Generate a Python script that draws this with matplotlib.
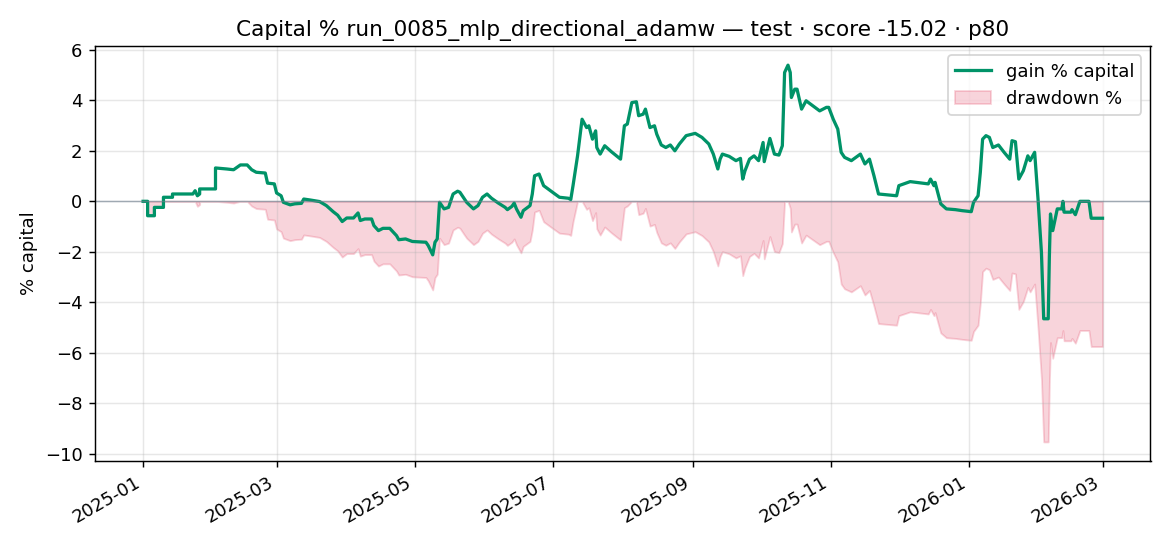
import matplotlib
matplotlib.use("Agg")
import matplotlib.pyplot as plt
import matplotlib.dates as mdates
import numpy as np
import pandas as pd

START = "2025-01-01"
# day offsets from START and gain % capital
days = [0, 2, 2, 5, 5, 9, 9, 13, 13, 22, 23, 24, 25, 25, 32, 32, 37, 40, 43, 46,
        48, 50, 54, 55, 58, 59, 61, 62, 65, 67, 70, 71, 74, 78, 81, 84, 86, 88, 90, 93,
        95, 96, 98, 101, 102, 104, 106, 109, 112, 113, 116, 119, 125, 126, 128, 129, 130, 131, 133, 135,
        137, 139, 140, 142, 143, 146, 148, 150, 152, 154, 157, 160, 161, 163, 164, 165, 167, 168, 171, 172,
        173, 175, 177, 180, 182, 184, 188, 189, 190, 192, 194, 196, 197, 198.6, 200, 200.5, 202, 204, 207, 210,
        211, 212.7, 214, 216, 218, 219, 221, 222, 224, 226, 227, 229, 231, 233, 235, 237, 240, 244, 247, 250,
        252, 254, 255, 256, 259, 262, 264, 265, 266, 268, 270, 272, 274, 274.5, 277, 279, 281, 282.5, 283.5, 285,
        286, 286.5, 288, 289, 291, 293, 296, 299, 302, 303, 305, 307, 308.5, 310, 313, 315, 317, 319, 321, 323,
        325, 333, 334, 339, 347, 348, 349.5, 350, 352.5, 355, 359, 362, 366, 367, 369, 370, 371, 372.5, 374, 375.5,
        378, 380.5, 383, 384, 385.5, 387, 389, 391, 392, 394, 395.5, 397, 398, 400, 400.5, 401, 402, 404, 406, 406.5,
        407, 410, 410.5, 412, 414, 418, 419, 424]
gain = [0.00, 0.00, -0.57, -0.57, -0.24, -0.24, 0.16, 0.16, 0.29, 0.29, 0.42, 0.22, 0.29, 0.49, 0.49, 1.32, 1.28, 1.25, 1.44, 1.44,
        1.25, 1.15, 1.12, 0.72, 0.69, 0.33, 0.22, -0.04, -0.14, -0.10, -0.08, 0.09, 0.05, -0.01, -0.17, -0.41, -0.55, -0.80, -0.66, -0.66,
        -0.46, -0.76, -0.70, -0.70, -0.96, -1.16, -1.07, -1.07, -1.36, -1.52, -1.49, -1.59, -1.62, -1.75, -2.12, -1.62, -1.49, -0.04, -0.30, -0.24,
        0.29, 0.40, 0.36, 0.09, -0.04, -0.30, -0.17, 0.16, 0.29, 0.12, -0.07, -0.24, -0.33, -0.20, -0.07, -0.30, -0.63, -0.37, -0.17, 0.29,
        1.01, 1.08, 0.62, 0.42, 0.29, 0.16, 0.12, 0.07, 0.62, 1.80, 3.25, 2.92, 2.99, 2.46, 2.79, 2.13, 1.87, 2.20, 1.96, 1.74,
        1.67, 2.99, 3.06, 3.91, 3.94, 3.39, 3.45, 3.65, 2.92, 2.99, 2.66, 2.23, 2.13, 2.23, 2.00, 2.27, 2.60, 2.69, 2.53, 2.27,
        1.87, 1.28, 1.67, 1.87, 1.78, 1.61, 1.70, 0.88, 1.21, 1.67, 1.80, 1.61, 2.33, 1.57, 2.49, 1.87, 1.83, 2.20, 5.10, 5.39,
        5.10, 4.11, 4.44, 4.44, 3.65, 3.98, 3.78, 3.58, 3.72, 3.72, 3.25, 2.86, 1.94, 1.74, 1.61, 1.74, 1.87, 1.48, 1.67, 1.01,
        0.29, 0.22, 0.62, 0.78, 0.69, 0.88, 0.62, 0.75, -0.10, -0.30, -0.33, -0.37, -0.41, -0.04, 0.22, 1.15, 2.46, 2.60, 2.53, 2.13,
        2.23, 1.94, 1.67, 2.40, 2.36, 0.88, 1.21, 1.80, 1.61, 1.94, 0.09, -2.02, -4.65, -4.65, -2.21, -0.50, -1.16, -0.30, -0.30, 0.00,
        -0.43, -0.43, -0.33, -0.53, 0.00, 0.00, -0.67, -0.67]

title = "Capital % run_0085_mlp_directional_adamw — test · score -15.02 · p80"

dates = pd.Timestamp(START) + pd.to_timedelta(np.array(days, dtype=float), unit="D")
g = np.array(gain)
peak = np.maximum.accumulate(g)
drawdown = ((100 + g) / (100 + peak) - 1) * 100

fig, ax = plt.subplots(figsize=(9, 4.2), dpi=130)
ax.fill_between(dates, drawdown, 0, color="crimson", alpha=0.18, label="drawdown %")
ax.plot(dates, g, color="#009368", lw=1.8, label="gain % capital")
ax.axhline(0, color="slategray", lw=0.8, alpha=0.6)
ax.grid(True, alpha=0.3)
ax.set_title(title, fontsize=12)
ax.set_ylabel("% capital")
ax.xaxis.set_major_locator(mdates.MonthLocator(bymonth=[1, 3, 5, 7, 9, 11]))
ax.xaxis.set_major_formatter(mdates.DateFormatter("%Y-%m"))
h, l = ax.get_legend_handles_labels()
ax.legend([h[1], h[0]], [l[1], l[0]], loc="upper right")
fig.autofmt_xdate()
fig.tight_layout()
fig.savefig("out.png", dpi=130)
